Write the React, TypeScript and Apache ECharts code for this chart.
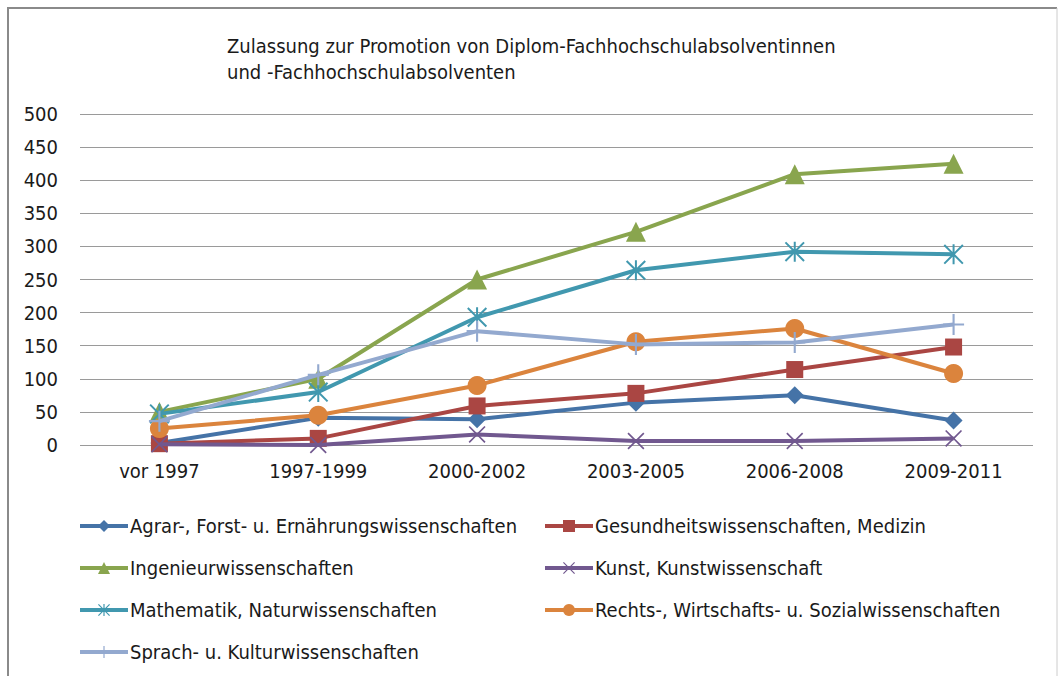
import React, { useEffect, useRef } from "react";
import * as echarts from "echarts";

const categories = ["vor 1997", "1997-1999", "2000-2002", "2003-2005", "2006-2008", "2009-2011"];
const yTicks = [0, 50, 100, 150, 200, 250, 300, 350, 400, 450, 500];

const agrar = [3, 41, 39, 64, 75, 37];
const gesundheit = [2, 10, 59, 78, 114, 148];
const ingenieur = [50, 100, 250, 322, 409, 425];
const kunst = [1, 0, 16, 6, 6, 10];
const mathematik = [47, 80, 193, 264, 292, 288];
const rechts = [25, 45, 90, 156, 176, 108];
const sprach = [36, 106, 172, 152, 155, 182];

const names = [
  "Agrar-, Forst- u. Ernährungswissenschaften",
  "Gesundheitswissenschaften, Medizin",
  "Ingenieurwissenschaften",
  "Kunst, Kunstwissenschaft",
  "Mathematik, Naturwissenschaften",
  "Rechts-, Wirtschafts- u. Sozialwissenschaften",
  "Sprach- u. Kulturwissenschaften",
];
const colors = ["#4573A7", "#AA4643", "#89A54E", "#71588F", "#4198AF", "#DB843D", "#93A9CF"];

const X_PATH = "path://M0,1.4L1.4,0L10,8.6L18.6,0L20,1.4L11.4,10L20,18.6L18.6,20L10,11.4L1.4,20L0,18.6L8.6,10Z";
const AST_PATH = X_PATH + "M9,0H11V20H9Z";
const PLUS_PATH = "path://M9,0H11V9H20V11H11V20H9V11H0V9H9Z";

const symbols = ["diamond", "rect", "triangle", X_PATH, AST_PATH, "circle", PLUS_PATH];
const symbolSizes = [18, 17, 20, 17, 20, 19, 21];
const dataSets = [agrar, gesundheit, ingenieur, kunst, mathematik, rechts, sprach];

const FONT = "'Liberation Sans Narrow', 'DejaVu Sans Condensed', 'Liberation Sans', sans-serif";

export default function App() {
  const ref = useRef<HTMLDivElement>(null);
  useEffect(() => {
    if (!ref.current) return;
    const chart = echarts.init(ref.current, null, { renderer: "svg" });
    const series = names.map((n, i) => ({
      name: n,
      type: "line",
      data: dataSets[i],
      symbol: symbols[i],
      symbolSize: symbolSizes[i],
      symbolKeepAspect: true,
      showAllSymbol: true,
      lineStyle: { width: 4, color: colors[i] },
      itemStyle: { color: colors[i] },
      emphasis: { disabled: true },
      z: 2 + i,
    }));
    const legendCommon = {
      orient: "vertical",
      itemWidth: 48,
      itemHeight: 15,
      itemGap: 22,
      height: 200,
      lineStyle: { width: 4 },
      textStyle: { fontFamily: FONT, fontSize: 20, color: "#1a1a1a", padding: [0, 0, 0, -3] },
    };
    chart.setOption({
      animation: false,
      backgroundColor: "#ffffff",
      color: colors,
      title: {
        text: "Zulassung zur Promotion von Diplom-Fachhochschulabsolventinnen\nund -Fachhochschulabsolventen",
        left: 222,
        top: 28,
        textStyle: {
          fontFamily: FONT,
          fontSize: 20,
          fontWeight: "normal",
          color: "#1a1a1a",
          lineHeight: 26,
        },
      },
      legend: [
        {
          ...legendCommon,
          left: 73,
          top: 511,
          data: [names[0], names[2], names[4], names[6]],
        },
        {
          ...legendCommon,
          left: 538,
          top: 511,
          data: [names[1], names[3], names[5]],
        },
      ],
      grid: { left: 80, right: 25, top: 114, bottom: 231 },
      xAxis: {
        type: "category",
        data: categories,
        boundaryGap: true,
        axisLine: { show: false },
        axisTick: { show: false },
        axisLabel: { fontFamily: FONT, fontSize: 20, color: "#1a1a1a", margin: 16 },
      },
      yAxis: {
        type: "value",
        min: yTicks[0],
        max: yTicks[yTicks.length - 1],
        interval: 50,
        axisLine: { show: false },
        axisTick: { show: false },
        splitLine: { show: true, lineStyle: { color: "#9a9a9a", width: 1 } },
        axisLabel: { fontFamily: FONT, fontSize: 20, color: "#1a1a1a", margin: 22 },
      },
      graphic: [
        { type: "line", shape: { x1: 7, y1: 8, x2: 1057, y2: 8 }, style: { stroke: "#8a8a8a", lineWidth: 2 } },
        { type: "line", shape: { x1: 8, y1: 7, x2: 8, y2: 680 }, style: { stroke: "#8a8a8a", lineWidth: 2 } },
        { type: "line", shape: { x1: 1057, y1: 8, x2: 1057, y2: 680 }, style: { stroke: "#cccccc", lineWidth: 1 } },
      ],
      series,
    });
    return () => chart.dispose();
  }, []);
  return (
    <div
      ref={ref}
      style={{ position: "absolute", left: 0, top: 0, width: 1058, height: 676 }}
    />
  );
}
